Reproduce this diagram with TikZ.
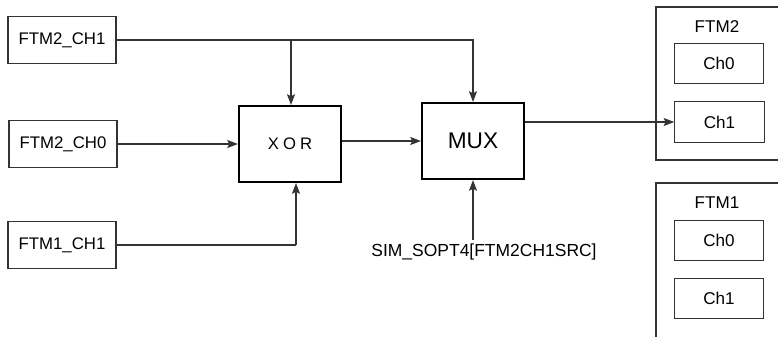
\documentclass[tikz,border=0pt]{standalone}
\usepackage{fontspec}
\setmainfont{Liberation Sans}
\usetikzlibrary{arrows.meta}
\begin{document}
\begin{tikzpicture}[x=0.75pt,y=-0.75pt,
  thin line/.style={draw=black!80,line width=0.8pt},
  srcbox/.style={thin line,rectangle,inner sep=0pt,minimum width=81pt,minimum height=35pt,font=\fontsize{12.6}{14}\selectfont},
  chbox/.style={thin line,rectangle,inner sep=0pt,minimum width=67pt,minimum height=30.5pt,font=\fontsize{12.8}{14}\selectfont},
  opbox/.style={draw=black,line width=1.6pt,rectangle,inner sep=0pt,minimum width=76.5pt,minimum height=57pt},
  lbl/.style={inner sep=0pt,font=\fontsize{12.8}{14}\selectfont},
  conn/.style={thin line,-{Stealth[length=8pt,width=6pt,inset=1.5pt]}},
  plain/.style={thin line}]
\useasboundingbox (0,0) rectangle (778,337);
% source boxes
\node[srcbox] (c21) at (62,40) {FTM2\_CH1};
\node[srcbox] (c20) at (63,144) {FTM2\_CH0};
\node[srcbox] (c11) at (62,245) {FTM1\_CH1};
% operators
\node[opbox,font=\fontsize{12.5}{14}\selectfont] (xor) at (290,144) {X\kern3pt O\kern3pt R};
\node[opbox,font=\fontsize{17}{19}\selectfont] (mux) at (473,141) {MUX};
\node[lbl,font=\fontsize{13.1}{15}\selectfont] (sim) at (484,252) {SIM\_SOPT4[FTM2CH1SRC]};
% FTM2 group
\draw[plain] (778,7) -- (656,7) -- (656,160) -- (778,160);
\node[lbl] (ftm2) at (717,27) {FTM2};
\node[chbox] (f2c0) at (719,63.5) {Ch0};
\node[chbox] (f2c1) at (719.5,122) {Ch1};
% FTM1 group
\draw[plain] (656,337) -- (656,183) -- (778,183);
\node[lbl] (ftm1) at (717,203) {FTM1};
\node[chbox] (f1c0) at (719,240.5) {Ch0};
\node[chbox] (f1c1) at (719,298.5) {Ch1};
% connectors
\coordinate (j) at (291,40);
\coordinate (k) at (296,245);
\draw[conn] (c21.east) -| (mux.north);
\draw[conn] (j) -- (j |- xor.north);
\draw[conn] (c20.east |- xor.west) -- (xor.west);
\draw[plain] (c11.east) -- (k);
\draw[conn] (k) -- (k |- xor.south);
\draw[conn] (xor.east |- mux.west) -- (mux.west);
\draw[conn] (mux.south |- sim.north) ++(0,-4) -- (mux.south);
\draw[conn] (mux.east |- f2c1.west) -- (f2c1.west);
\end{tikzpicture}
\end{document}
